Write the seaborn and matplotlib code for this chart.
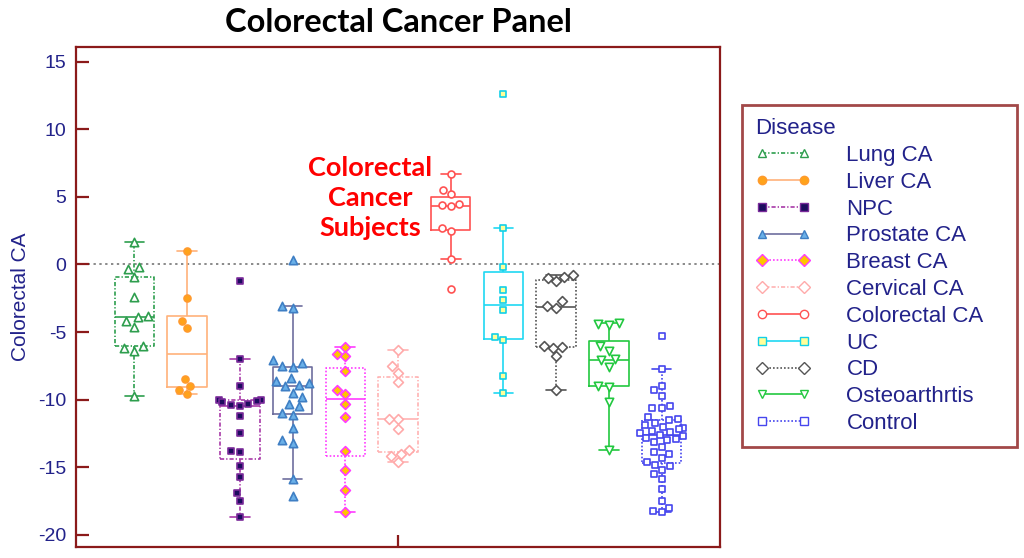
import pandas as pd
import numpy as np
import matplotlib
matplotlib.use("Agg")
import matplotlib.pyplot as plt
import seaborn as sns
from matplotlib.lines import Line2D

# Values (Colorectal CA score per subject)
diseases = ["Lung CA", "Liver CA", "NPC", "Prostate CA", "Breast CA", "Cervical CA",
            "Colorectal CA", "UC", "CD", "Osteoarthrtis", "Control"]

lung_ca = [1.7, -0.2, -0.3, -0.9, -2.4, -3.8, -3.9, -4.2, -4.6, -6.0, -6.2, -6.4, -9.7]
liver_ca = [1.0, -2.5, -4.2, -4.7, -8.5, -9.0, -9.3, -9.6]
npc = [-1.2, -7.0, -9.0, -10.0, -10.0, -10.1, -10.2, -10.3, -10.4, -10.5, -11.2, -12.5,
       -13.8, -13.9, -14.9, -15.7, -16.9, -17.5, -18.7]
prostate_ca = [0.3, -3.1, -3.2, -7.1, -7.3, -7.5, -7.6, -8.4, -8.6, -8.8, -8.9, -9.0, -9.5,
               -9.8, -10.3, -10.5, -11.0, -11.1, -12.1, -13.0, -13.2, -15.9, -17.1]
breast_ca = [-6.1, -6.6, -6.8, -7.9, -9.3, -9.6, -10.3, -11.3, -13.8, -15.2, -16.7, -18.3]
cervical_ca = [-6.3, -7.5, -8.0, -8.7, -11.4, -11.4, -12.2, -13.7, -14.0, -14.2, -14.6]
colorectal_ca = [6.7, 5.5, 5.2, 4.5, 4.4, 4.3, 2.7, 2.5, 0.4, -1.8]
uc = [12.6, 2.7, -0.15, -1.9, -2.65, -3.4, -5.35, -5.6, -8.25, -9.5]
cd = [-0.8, -0.9, -1.0, -1.2, -2.7, -3.1, -3.2, -6.0, -6.1, -6.2, -6.8, -9.3]
osteoarthritis = [-4.3, -4.4, -4.5, -6.0, -6.4, -7.0, -7.1, -7.6, -9.0, -9.1, -10.2, -13.7]
control = [-5.3, -7.7, -9.0, -9.3, -9.7, -10.5, -10.6, -10.6, -11.3, -11.4, -11.5, -11.7,
           -11.9, -12.0, -12.1, -12.2, -12.3, -12.4, -12.5, -12.6, -12.7, -12.8, -12.9,
           -13.0, -13.1, -13.5, -13.9, -14.0, -14.3, -14.6, -14.8, -14.9, -15.2, -15.5,
           -15.9, -16.6, -17.5, -18.0, -18.2, -18.3]

values = [lung_ca, liver_ca, npc, prostate_ca, breast_ca, cervical_ca,
          colorectal_ca, uc, cd, osteoarthritis, control]

df = pd.DataFrame({
    "Disease": np.repeat(diseases, [len(v) for v in values]),
    "Value": np.concatenate(values),
})

# style per group: line colour, line style, marker, marker face, marker edge
dotdash = (0, (2.5, 1.2, 0.8, 1.2))
dotted = (0, (1, 1.2))
styles = {
    "Lung CA":       ("#2e9e4e", dotdash, "^", "white", "#2e9e4e"),
    "Liver CA":      ("#ffb27a", "-", "o", "#ffa31a", "#ff9a2e"),
    "NPC":           ("#a83aa8", dotdash, "s", "#1c0c5e", "#7a2a9a"),
    "Prostate CA":   ("#6e6e9e", "-", "^", "#6ab0e8", "#3f7fc4"),
    "Breast CA":     ("#ff3cff", dotted, "D", "#ffc400", "#ff3cff"),
    "Cervical CA":   ("#ffb3b3", dotdash, "D", "white", "#ffaaaa"),
    "Colorectal CA": ("#ff5252", "-", "o", "white", "#ff5252"),
    "UC":            ("#1fd8f2", "-", "s", "#ffff99", "#12cfe8"),
    "CD":            ("#555555", dotted, "D", "white", "#555555"),
    "Osteoarthrtis": ("#22c840", "-", "v", "white", "#22c840"),
    "Control":       ("#4646ee", dotted, "s", "white", "#4646ee"),
}

sns.set_style("white")
plt.rcParams["font.family"] = ["Liberation Sans", "DejaVu Sans"]
plt.rcParams["axes.unicode_minus"] = False

navy = "#22228a"
spine_col = "#8b1a1a"

fig = plt.figure(figsize=(10.24, 5.58), dpi=100)
ax = fig.add_axes([76 / 1024, 1 - 547 / 558, (720 - 76) / 1024, (547 - 47) / 558])

ax.axhline(0, color="#8a8a8a", linestyle=(0, (1.2, 1.8)), linewidth=1.4, zorder=0)

for name in diseases:
    col, ls, mk, face, edge = styles[name]
    sub = df[df["Disease"] == name]
    sns.boxplot(data=sub, x="Disease", y="Value", order=diseases, ax=ax,
                width=0.75, fill=False, color=col, linewidth=1.2, showfliers=False,
                boxprops=dict(linestyle=ls, color=col),
                whiskerprops=dict(linestyle=ls, color=col),
                capprops=dict(linestyle="-", color=col),
                medianprops=dict(linestyle="-", color=col))
    msize = 6.0 if mk in ("^", "v") else 5.0
    sns.swarmplot(data=sub, x="Disease", y="Value", order=diseases, ax=ax,
                  marker=mk, color=face, edgecolor=edge, linewidth=1.2, size=msize)

ax.set_xlim(-1.11, 11.11)
ax.set_ylim(-20.9, 16.09)
ax.set_xticks([5])
ax.set_xticklabels([""])
ax.set_yticks([15, 10, 5, 0, -5, -10, -15, -20])
ax.set_xlabel("")
ax.set_ylabel("Colorectal CA", color=navy, fontsize=15, labelpad=6)
ax.tick_params(axis="both", direction="in", length=9, width=1.6, color=spine_col,
               labelcolor=navy, labelsize=14, pad=7, left=True, bottom=True)
for sp in ax.spines.values():
    sp.set_visible(True)
    sp.set_color(spine_col)
    sp.set_linewidth(1.6)

ax.text(4.47, 4.9, "Colorectal\nCancer\nSubjects", color="#ff0000", fontsize=19.5,
        fontweight="bold", family=["Lato", "DejaVu Sans"], ha="center", va="center",
        linespacing=1.3)

fig.text(398 / 1024, 1 - 23 / 558, "Colorectal Cancer Panel", fontsize=23.5,
         fontweight="bold", family=["Lato", "DejaVu Sans"], color="black",
         ha="center", va="center")

handles = []
for name in diseases:
    col, ls, mk, face, edge = styles[name]
    handles.append(Line2D([], [], color=col, linestyle=ls, linewidth=1.2, marker=mk,
                          markerfacecolor=face, markeredgecolor=edge, markersize=6))
leg = ax.legend(handles, diseases, title="Disease", loc="upper left",
                bbox_to_anchor=(742 / 1024, 1 - 105 / 558, 275 / 1024, 0),
                bbox_transform=fig.transFigure, mode="expand", borderaxespad=0,
                numpoints=2, fontsize=16, title_fontsize=16, labelcolor=navy,
                handlelength=2.5, handletextpad=1.6, labelspacing=0.26,
                borderpad=0.6, alignment="left", fancybox=False, frameon=True)
leg.get_title().set_color(navy)
leg.get_frame().set_edgecolor(spine_col)
leg.get_frame().set_linewidth(2)

fig.savefig("out.png", dpi=100)
